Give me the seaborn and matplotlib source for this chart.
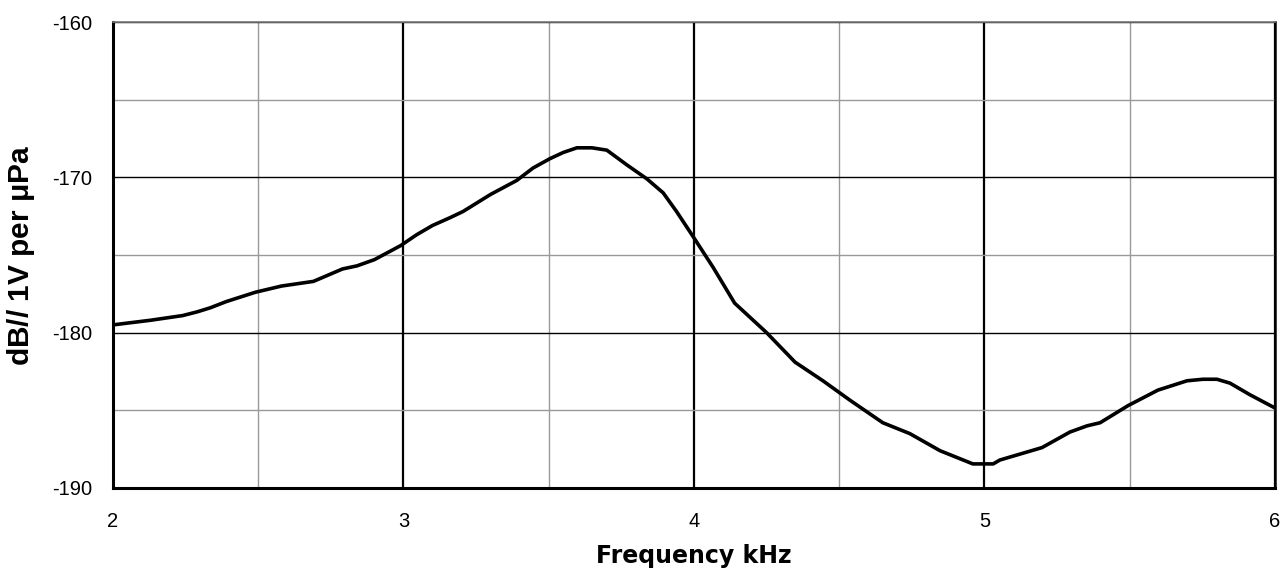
import numpy as np
import pandas as pd
import matplotlib
matplotlib.use("Agg")
import matplotlib.pyplot as plt
import seaborn as sns
from matplotlib.ticker import MultipleLocator

# frequency (kHz) and sensitivity (dB re 1V/uPa)
freq_khz = [2.00, 2.13, 2.24, 2.29, 2.335, 2.39, 2.49, 2.58, 2.69, 2.79, 2.84, 2.90,
            2.99, 3.045, 3.10, 3.16, 3.205, 3.30, 3.39, 3.446, 3.504, 3.55, 3.597,
            3.649, 3.70, 3.769, 3.838, 3.894, 3.94, 4.00, 4.066, 4.14, 4.25, 4.348,
            4.444, 4.537, 4.65, 4.743, 4.847, 4.96, 5.03, 5.053, 5.198, 5.294, 5.353,
            5.398, 5.494, 5.597, 5.697, 5.752, 5.80, 5.845, 5.914, 6.00]
level_db = [-179.5, -179.2, -178.9, -178.66, -178.4, -178.0, -177.4, -177.0, -176.7,
            -175.9, -175.7, -175.3, -174.4, -173.7, -173.1, -172.6, -172.2, -171.1,
            -170.2, -169.4, -168.8, -168.4, -168.1, -168.1, -168.25, -169.2, -170.1,
            -171.0, -172.2, -173.9, -175.8, -178.1, -180.0, -181.9, -183.1, -184.35,
            -185.8, -186.5, -187.6, -188.45, -188.45, -188.2, -187.4, -186.4, -186.0,
            -185.8, -184.7, -183.7, -183.1, -183.0, -183.0, -183.25, -184.0, -184.85]

df = pd.DataFrame({"freq": freq_khz, "level": level_db})

sns.set_style("white")
plt.rcParams['font.family'] = ['Liberation Sans', 'DejaVu Sans']
plt.rcParams['axes.unicode_minus'] = False

fig = plt.figure(figsize=(12.88, 5.70), dpi=100)
ax = fig.add_axes([0.0877, 0.1439, 0.9022, 0.8175])

# grid: gray minor, black major
ax.xaxis.set_major_locator(MultipleLocator(1))
ax.xaxis.set_minor_locator(MultipleLocator(0.5))
ax.yaxis.set_major_locator(MultipleLocator(10))
ax.yaxis.set_minor_locator(MultipleLocator(5))
ax.grid(which='minor', color='#999999', linewidth=1.0)
ax.grid(which='major', axis='x', color='black', linewidth=1.6)
ax.grid(which='major', axis='y', color='black', linewidth=1.0)
ax.set_axisbelow(True)

sns.lineplot(data=df, x="freq", y="level", color='black', linewidth=2.6, ax=ax)

ax.set_xlim(2, 6)
ax.set_ylim(-190, -160)

ax.tick_params(axis='x', which='both', direction='in', length=5, width=1.2,
               labelsize=14.5, pad=17, colors='black')
ax.tick_params(axis='x', which='major', length=0)
ax.tick_params(axis='y', which='both', length=0, labelsize=14.5, pad=15, colors='black')

for side in ['left', 'bottom']:
    ax.spines[side].set_color('black')
    ax.spines[side].set_linewidth(2.2)
ax.spines['right'].set_color('black')
ax.spines['right'].set_linewidth(1.8)
ax.spines['top'].set_color('#777777')
ax.spines['top'].set_linewidth(1.2)

ax.set_xlabel("Frequency kHz", fontsize=17, fontweight='bold', color='black',
              family=['DejaVu Sans'], labelpad=10)
ax.set_ylabel(r"dB// 1V per $\mathregular{\mu}$Pa", fontsize=21.5, fontweight='bold',
              color='black', labelpad=11)

fig.savefig("out.png", dpi=100)
